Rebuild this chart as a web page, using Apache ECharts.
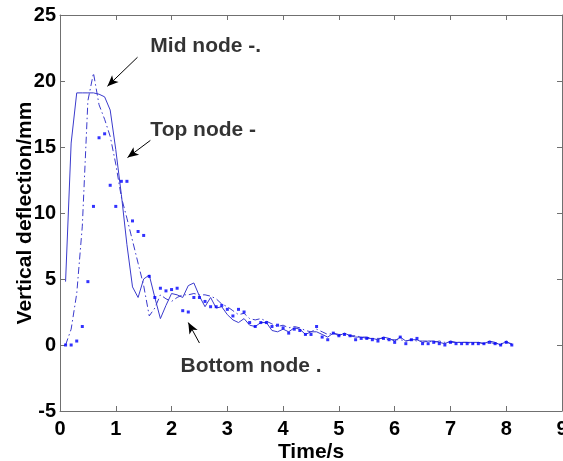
<!DOCTYPE html>
<html>
<head>
<meta charset="utf-8">
<script src="https://cdn.jsdelivr.net/npm/echarts@6/dist/echarts.min.js"></script>
<style>html,body{margin:0;padding:0;background:#fff}#c{width:563px;height:461px}</style>
</head>
<body>
<div id="c"></div>
<script>
var time = [0.1,0.2,0.3,0.4,0.5,0.6,0.7,0.8,0.9,1.0,1.1,1.2,1.3,1.4,1.5,1.6,1.7,1.8,1.9,2.0,
  2.1,2.2,2.3,2.4,2.5,2.6,2.7,2.8,2.9,3.0,3.1,3.2,3.3,3.4,3.5,3.6,3.7,3.8,3.9,4.0,
  4.1,4.2,4.3,4.4,4.5,4.6,4.7,4.8,4.9,5.0,5.1,5.2,5.3,5.4,5.5,5.6,5.7,5.8,5.9,6.0,
  6.1,6.2,6.3,6.4,6.5,6.6,6.7,6.8,6.9,7.0,7.1,7.2,7.3,7.4,7.5,7.6,7.7,7.8,7.9,8.0,8.1];
var topNode = [4.8,15.3,19.1,19.1,19.1,19.1,19.0,18.8,17.8,14.8,11.4,7.6,4.4,3.6,5.0,5.3,3.6,2.0,3.0,3.9,
  3.8,3.6,4.5,4.7,3.7,2.9,3.6,2.8,2.9,2.3,1.9,1.7,2.0,1.5,1.4,1.7,1.7,1.1,1.0,1.2,
  1.0,1.3,1.2,0.8,1.0,1.0,0.8,0.6,0.9,0.7,0.9,0.7,0.6,0.6,0.5,0.5,0.4,0.6,0.5,0.3,
  0.6,0.3,0.4,0.4,0.2,0.3,0.3,0.2,0.1,0.3,0.2,0.2,0.2,0.2,0.2,0.1,0.3,0.2,0.0,0.3,0.0];
var midNode = [0.0,1.2,3.9,9.0,18.5,20.6,18.2,17.1,15.8,13.7,11.2,9.6,7.9,6.2,4.5,2.2,2.8,3.8,3.5,3.3,
  3.6,3.8,3.8,3.9,3.8,3.8,3.7,3.5,3.1,2.9,2.6,2.3,2.4,2.0,1.9,2.0,1.8,1.6,1.4,1.5,
  1.3,1.4,1.3,1.1,1.0,1.2,1.0,0.8,0.9,0.8,0.8,0.7,0.7,0.6,0.6,0.5,0.5,0.5,0.4,0.4,
  0.4,0.3,0.4,0.3,0.3,0.3,0.2,0.3,0.2,0.2,0.2,0.2,0.2,0.1,0.2,0.1,0.2,0.1,0.1,0.2,0.1];
var bottomNode = [0.0,0.0,0.3,1.4,4.8,10.5,15.7,16.0,12.1,10.5,12.4,12.4,9.4,8.6,8.3,5.2,3.6,4.3,4.1,4.2,
  4.3,2.6,2.5,3.6,3.6,3.3,2.9,2.9,3.0,2.7,2.2,2.7,2.5,1.7,1.4,1.7,1.7,1.4,1.5,1.3,
  0.9,1.2,1.1,0.8,0.8,1.4,0.6,0.4,0.9,0.7,0.8,0.7,0.4,0.5,0.5,0.4,0.3,0.5,0.4,0.2,
  0.6,0.1,0.4,0.5,0.1,0.1,0.2,0.1,0.0,0.2,0.1,0.1,0.1,0.1,0.1,0.1,0.2,0.1,0.0,0.2,0.0];
var xTicks = [0,1,2,3,4,5,6,7,8,9];
var yTicks = [-5,0,5,10,15,20,25];
var labels = ['Mid node -.', 'Top node -', 'Bottom node .'];
var labelPos = [[1.62, 22.65], [1.62, 16.3], [2.16, -1.6]];
var arrows = [[[1.39, 21.8],[0.85, 19.6]], [[1.62, 15.5],[1.21, 14.2]], [[2.5, 0.15],[2.3, 1.7]]];

function pairs(arr){ return time.map(function(t,i){ return [t, arr[i]]; }); }

var chart = echarts.init(document.getElementById('c'), null, {renderer:'canvas'});
var font = 'Liberation Sans, Arial, sans-serif';
var axisLine = {onZero:false, lineStyle:{color:'#707070', width:1}};
var tick = {inside:true, length:5, lineStyle:{color:'#707070'}};
var option = {
  animation:false,
  grid:{left:60, right:1, top:15, bottom:50, containLabel:false, outerBoundsMode:'none'},
  xAxis:[{type:'value', min:xTicks[0], max:xTicks[xTicks.length-1], interval:1,
    name:'Time/s', nameLocation:'middle', nameGap:31, nameMoveOverlap:false,
    nameTextStyle:{fontFamily:font, fontWeight:'bold', fontSize:21, color:'#000'},
    axisLine:axisLine, axisTick:tick,
    axisLabel:{fontFamily:font, fontWeight:'bold', fontSize:20, color:'#000', margin:8},
    splitLine:{show:false}},
    {type:'value', position:'top', min:xTicks[0], max:xTicks[xTicks.length-1], interval:1,
    axisLine:axisLine, axisTick:tick, axisLabel:{show:false}, splitLine:{show:false}}],
  yAxis:[{type:'value', min:yTicks[0], max:yTicks[yTicks.length-1], interval:5,
    name:'Vertical deflection/mm', nameLocation:'middle', nameGap:24, nameMoveOverlap:false,
    nameTextStyle:{fontFamily:font, fontWeight:'bold', fontSize:21, color:'#000'},
    axisLine:axisLine, axisTick:tick,
    axisLabel:{fontFamily:font, fontWeight:'bold', fontSize:20, color:'#000', margin:4},
    splitLine:{show:false}},
    {type:'value', position:'right', min:yTicks[0], max:yTicks[yTicks.length-1], interval:5,
    axisLine:axisLine, axisTick:tick, axisLabel:{show:false}, splitLine:{show:false}}],
  series:[
    {name:'Top node', type:'line', data:pairs(topNode), showSymbol:false, symbol:'none',
     lineStyle:{color:'#3a3acc', width:1}, z:3,
     markLine:{silent:true, symbol:['none','arrow'], symbolSize:[7,11],
       lineStyle:{color:'#000', width:1, type:'solid'}, label:{show:false},
       data:arrows.map(function(a){ return [{coord:a[0]},{coord:a[1]}]; })}},
    {name:'Mid node', type:'line', data:pairs(midNode), showSymbol:false, symbol:'none',
     lineStyle:{color:'#3a3acc', width:1, type:[7,3,1.5,3]}, z:3},
    {name:'Bottom node', type:'scatter', data:pairs(bottomNode), symbol:'rect', symbolSize:3,
     itemStyle:{color:'#0000ff'}, z:4},
    {name:'labels', type:'scatter', symbolSize:0,
     data:labels.map(function(s,i){ return {value:labelPos[i], name:s}; }),
     label:{show:true, position:'right', distance:0, formatter:'{b}',
       fontFamily:font, fontWeight:'bold', fontSize:21, color:'#000'}}
  ]
};
chart.setOption(option);
</script>
</body>
</html>
